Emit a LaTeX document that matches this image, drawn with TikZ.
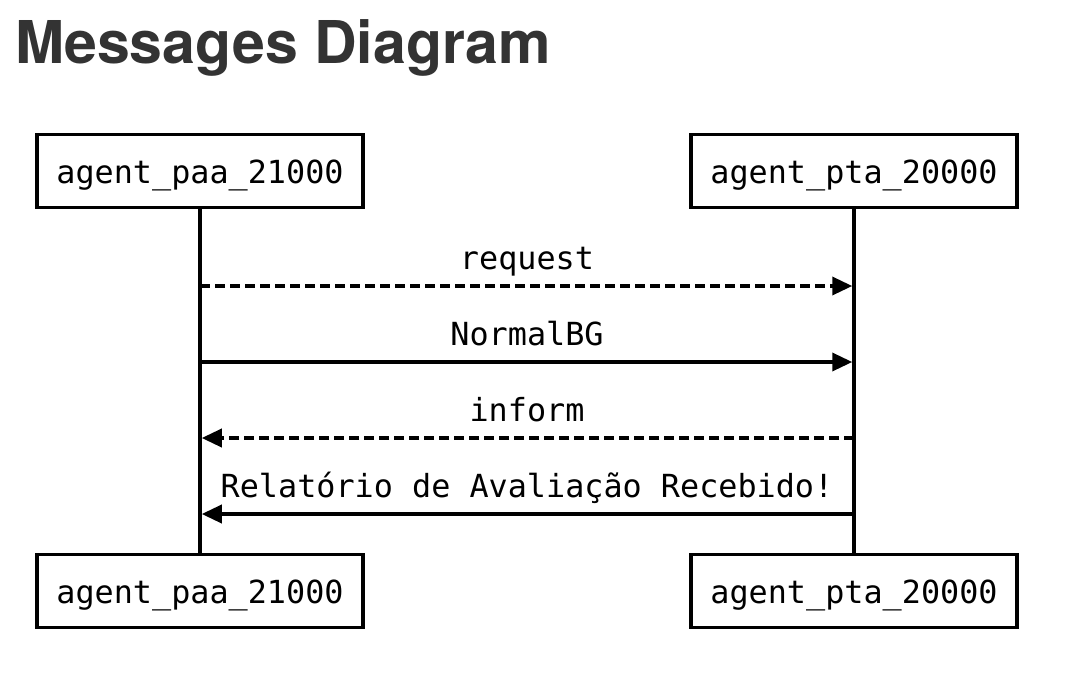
\documentclass[tikz,border=0pt]{standalone}
\usepackage{fontspec}
\usetikzlibrary{arrows.meta}
\newfontfamily\diagmono{DejaVu Sans Mono}
\newfontfamily\diagtitle{TeX Gyre Heros}
\definecolor{titlegray}{HTML}{333333}
\tikzset{
  actorbox/.style={draw=black, line width=3.5pt, fill=white, minimum width=326pt, minimum height=73pt,
    inner sep=0pt, text height=24pt, text depth=0pt, font=\diagmono\fontsize{31.8}{36}\selectfont},
  lifeline/.style={draw=black, line width=3.5pt},
  msg/.style={draw=black, line width=3.5pt, -{Triangle[length=20pt,width=18pt]}, shorten >=1.75pt},
  asyncmsg/.style={msg, dash pattern=on 10pt off 5pt},
  msglabel/.style={anchor=base, inner sep=0pt, font=\diagmono\fontsize{31.8}{36}\selectfont},
  titlestyle/.style={anchor=base west, inner sep=0pt, text=titlegray, font=\diagtitle\bfseries\fontsize{59}{66}\selectfont}
}
\begin{document}
\begin{tikzpicture}[x=1pt,y=-1pt]
\useasboundingbox (0,0) rectangle (1070,672);
\node[titlestyle] (title) at (15,63) {Messages Diagram};

\node[actorbox] (paatop) at (200,171) {agent\_paa\_21000};
\node[actorbox] (ptatop) at (854,171) {agent\_pta\_20000};
\node[actorbox] (paabot) at (200,591) {agent\_paa\_21000};
\node[actorbox] (ptabot) at (854,591) {agent\_pta\_20000};

\draw[lifeline] (paatop.south) -- (paabot.north);
\draw[lifeline] (ptatop.south) -- (ptabot.north);

\coordinate (a1) at (200,286); \coordinate (b1) at (854,286);
\coordinate (a2) at (200,362); \coordinate (b2) at (854,362);
\coordinate (a3) at (200,438); \coordinate (b3) at (854,438);
\coordinate (a4) at (200,514); \coordinate (b4) at (854,514);

\draw[asyncmsg] (a1) -- (b1);
\draw[msg] (a2) -- (b2);
\draw[asyncmsg] (b3) -- (a3);
\draw[msg] (b4) -- (a4);

\node[msglabel] (l1) at (527,269) {request};
\node[msglabel] (l2) at (527,345) {NormalBG};
\node[msglabel] (l3) at (527,421) {inform};
\node[msglabel] (l4) at (527,497) {Relatório de Avaliação Recebido!};
\end{tikzpicture}
\end{document}
